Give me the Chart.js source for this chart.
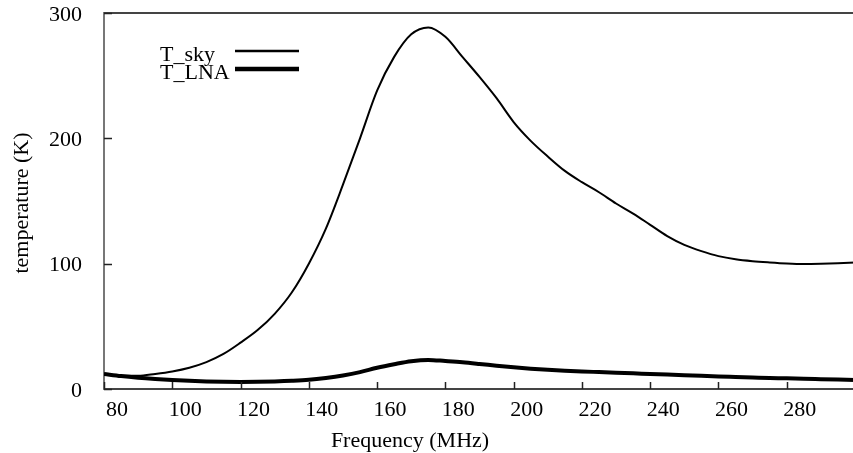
<!DOCTYPE html>
<html>
<head>
<meta charset="utf-8">
<script src="https://cdn.jsdelivr.net/npm/chart.js@4/dist/chart.umd.min.js"></script>
<style>
html, body { margin: 0; padding: 0; background: #fff; overflow: hidden; }
</style>
</head>
<body>
<canvas id="temp" width="856" height="453"></canvas>
<script>
var frequencies = [80, 85, 90, 95, 100, 105, 110, 115, 120, 125, 130, 135, 140, 145, 150,
    155, 160, 165, 170, 175, 180, 185, 190, 195, 200, 205, 210, 215, 220, 225,
    230, 235, 240, 245, 250, 255, 260, 265, 270, 275, 280, 285, 290, 295, 300];
var skyTemperature = [11.5, 10.5, 10.5, 12, 14, 17, 21.5, 28, 37, 47, 60, 77, 100, 128, 163,
    200, 238, 265, 283, 288.5, 281, 265, 249, 232, 213, 198, 185.5, 174, 165, 157,
    148, 140, 131, 122, 115, 110, 106, 103.5, 102, 101, 100.2, 99.8, 100, 100.4, 101];
var lnaTemperature = [12, 10.3, 9, 8, 7.2, 6.5, 6, 5.7, 5.6, 5.7, 6, 6.5, 7.3, 8.8, 10.8,
    13.5, 17, 19.8, 22.2, 23.2, 22.3, 21.3, 20, 18.6, 17.3, 16.2, 15.3, 14.6, 14, 13.5,
    13, 12.5, 12, 11.5, 11, 10.5, 10, 9.6, 9.2, 8.8, 8.5, 8.1, 7.8, 7.5, 7.2];
var seriesNames = ['T_sky', 'T_LNA'];
var xTitle = 'Frequency (MHz)';
var yTitle = 'temperature (K)';

var serif = '"Liberation Serif", "Times New Roman", serif';

function toPoints(values) {
    return frequencies.map(function(f, i) { return { x: f, y: values[i] }; });
}

// gnuplot style frame: inward ticks, top border, key and axis titles
var framePlugin = {
    id: 'frame',
    afterDraw: function(chart) {
        var ctx = chart.ctx;
        var area = chart.chartArea;
        var xs = chart.scales.x;
        var ys = chart.scales.y;
        ctx.save();
        ctx.strokeStyle = '#444';
        ctx.lineWidth = 2;
        ctx.beginPath();
        ctx.moveTo(area.left, area.top);
        ctx.lineTo(area.right, area.top);
        ctx.stroke();

        ctx.strokeStyle = '#222';
        ctx.lineWidth = 1.5;
        ctx.beginPath();
        xs.ticks.forEach(function(t) {
            var px = Math.round(xs.getPixelForValue(t.value)) + 0.5;
            ctx.moveTo(px, area.bottom);
            ctx.lineTo(px, area.bottom - 7);
        });
        ys.ticks.forEach(function(t) {
            var py = Math.round(ys.getPixelForValue(t.value)) + 0.5;
            ctx.moveTo(area.left, py);
            ctx.lineTo(area.left + 8, py);
        });
        ctx.stroke();

        ctx.fillStyle = '#000';
        ctx.strokeStyle = '#000';
        ctx.font = '22px ' + serif;
        ctx.textBaseline = 'alphabetic';
        ctx.textAlign = 'left';
        chart.data.datasets.forEach(function(ds, i) {
            var base = 61 + i * 18;
            ctx.fillText(ds.label, 160, base);
            ctx.lineWidth = ds.borderWidth + 0.5;
            ctx.beginPath();
            ctx.moveTo(235, base - 10);
            ctx.lineTo(299, base - 10);
            ctx.stroke();
        });

        ctx.textAlign = 'center';
        ctx.fillText(xTitle, 410, 446.5);
        ctx.translate(22, 203);
        ctx.rotate(-Math.PI / 2);
        ctx.textBaseline = 'middle';
        ctx.fillText(yTitle, 0, 0);
        ctx.restore();
    }
};

document.addEventListener('DOMContentLoaded', function() {
    var context = document.getElementById('temp').getContext('2d');
    new Chart(context, {
        type: 'line',
        data: {
            datasets: [
                {
                    label: seriesNames[0],
                    data: toPoints(skyTemperature),
                    borderColor: '#000',
                    borderWidth: 2,
                    pointRadius: 0,
                    cubicInterpolationMode: 'monotone',
                    fill: false
                },
                {
                    label: seriesNames[1],
                    data: toPoints(lnaTemperature),
                    borderColor: '#000',
                    borderWidth: 4,
                    pointRadius: 0,
                    cubicInterpolationMode: 'monotone',
                    fill: false
                }
            ]
        },
        options: {
            responsive: false,
            animation: false,
            devicePixelRatio: 1,
            layout: { padding: { top: 13, right: 1, left: 0, bottom: 0 } },
            plugins: { legend: { display: false }, tooltip: { enabled: false } },
            scales: {
                x: {
                    type: 'linear',
                    min: 80,
                    max: 300,
                    grid: { display: false, drawTicks: false },
                    border: { display: true, color: '#444', width: 2 },
                    ticks: {
                        stepSize: 20,
                        color: '#000',
                        font: { family: serif, size: 22 },
                        padding: 8,
                        labelOffset: 13,
                        maxRotation: 0,
                        callback: function(v) { return v >= 300 ? '' : v; }
                    },
                    afterFit: function(scale) {
                        scale.height = 64;
                        scale.paddingLeft = 0;
                        scale.paddingRight = 0;
                    }
                },
                y: {
                    min: 0,
                    max: 300,
                    grid: { display: false, drawTicks: false },
                    border: { display: true, color: '#777', width: 2 },
                    ticks: {
                        stepSize: 100,
                        color: '#000',
                        font: { family: serif, size: 22 },
                        padding: 22,
                        labelOffset: 2
                    },
                    afterFit: function(scale) {
                        scale.width = 104;
                        scale.paddingTop = 0;
                        scale.paddingBottom = 0;
                    }
                }
            }
        },
        plugins: [framePlugin]
    });
});
</script>
</body>
</html>
